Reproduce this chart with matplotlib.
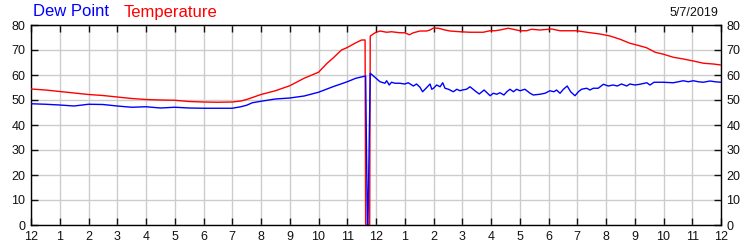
import matplotlib
matplotlib.use("Agg")
import matplotlib.pyplot as plt

plt.rcParams["font.family"] = ["Liberation Sans", "DejaVu Sans"]

# hours since midnight, readings in deg F
temp_hours = [0, 0.5, 1, 1.5, 2, 2.5, 3, 3.5, 4, 4.5, 5, 5.5, 6, 6.5, 7, 7.3, 7.5, 7.7,
              8, 8.5, 9, 9.5, 10, 10.3, 10.5, 10.8, 11, 11.3, 11.5, 11.62, 11.64, 11.78,
              11.80, 11.97, 12.14, 12.37, 12.54, 12.83, 13.0, 13.16, 13.30, 13.53, 13.76,
              13.88, 14.0, 14.17, 14.40, 14.57, 14.92, 15.27, 15.73, 15.97, 16.14, 16.31,
              16.60, 16.89, 17.01, 17.24, 17.41, 17.70, 18.11, 18.40, 18.98, 19.33, 19.79,
              20.14, 20.49, 20.83, 21.07, 21.41, 21.71, 22.0, 22.34, 22.69, 23.04, 23.39,
              23.73, 24.0]
temp_vals = [54.4, 54.0, 53.4, 52.8, 52.2, 51.8, 51.2, 50.6, 50.2, 50.0, 49.9, 49.4, 49.2,
             49.1, 49.2, 49.6, 50.2, 51.0, 52.2, 53.7, 55.7, 58.7, 61.1, 64.7, 66.7, 70.0,
             71.0, 72.9, 74.0, 74.0, 0, 0, 75.6, 76.9, 77.6, 77.1, 77.3, 76.9, 76.9, 76.1,
             76.9, 77.6, 77.6, 78.0, 78.8, 78.7, 78.0, 77.6, 77.3, 77.1, 77.1, 77.7, 77.7,
             78.0, 78.7, 78.0, 77.7, 77.7, 78.3, 78.0, 78.4, 77.7, 77.7, 77.1, 76.4, 75.6,
             74.3, 72.7, 72.0, 70.9, 69.1, 68.3, 67.1, 66.4, 65.6, 64.7, 64.4, 64.0]

dew_hours = [0, 0.5, 1, 1.5, 2, 2.5, 3, 3.5, 4, 4.5, 5, 5.5, 6, 6.5, 7, 7.3, 7.5, 7.7, 8,
             8.5, 9, 9.5, 10, 10.5, 11, 11.3, 11.64, 11.70, 11.72, 11.80, 12.0, 12.14,
             12.31, 12.37, 12.46, 12.54, 12.66, 12.83, 13.0, 13.12, 13.30, 13.41, 13.53,
             13.62, 13.74, 13.88, 13.94, 14.0, 14.11, 14.23, 14.32, 14.40, 14.52, 14.69,
             14.81, 14.92, 15.0, 15.15, 15.27, 15.44, 15.59, 15.76, 15.97, 16.08, 16.20,
             16.31, 16.45, 16.55, 16.66, 16.78, 16.89, 17.01, 17.18, 17.36, 17.47, 17.70,
             17.88, 18.05, 18.19, 18.28, 18.40, 18.52, 18.65, 18.77, 18.92, 19.04, 19.15,
             19.33, 19.44, 19.56, 19.73, 19.91, 20.08, 20.25, 20.39, 20.54, 20.72, 20.83,
             21.01, 21.18, 21.42, 21.53, 21.67, 21.99, 22.34, 22.52, 22.69, 22.86, 23.04,
             23.21, 23.38, 23.62, 23.79, 24.0]
dew_vals = [48.5, 48.3, 48.0, 47.6, 48.3, 48.2, 47.6, 47.1, 47.3, 46.8, 47.1, 46.8, 46.7,
            46.7, 46.7, 47.3, 47.9, 48.9, 49.5, 50.4, 50.8, 51.6, 53.1, 55.3, 57.3, 58.7,
            59.6, 0, 0, 60.7, 58.7, 57.3, 56.7, 57.7, 56.0, 57.1, 56.7, 56.7, 56.4, 56.9,
            55.6, 56.4, 55.1, 53.3, 54.7, 56.4, 54.3, 54.7, 56.0, 55.3, 56.9, 54.7, 54.3,
            53.3, 54.3, 53.7, 54.0, 54.3, 55.3, 53.7, 52.4, 54.0, 51.7, 52.7, 52.3, 52.9,
            52.0, 53.3, 54.3, 53.3, 54.3, 53.7, 54.3, 52.7, 52.0, 52.3, 52.7, 53.7, 53.3,
            54.0, 52.7, 54.3, 55.6, 53.3, 51.7, 53.3, 54.3, 54.7, 54.0, 54.7, 54.7, 56.3,
            55.6, 56.0, 55.6, 56.4, 55.6, 56.4, 56.0, 56.3, 56.9, 56.0, 57.1, 57.1, 56.9,
            57.3, 57.7, 57.3, 57.7, 57.3, 57.1, 57.6, 57.3, 57.1]

hour_labels = ["12"] + [str(h) for h in range(1, 12)] + ["12"] + [str(h) for h in range(1, 12)] + ["12"]
y_ticks = list(range(0, 81, 10))

fig = plt.figure(figsize=(7.5, 2.5), dpi=100)
ax = fig.add_axes([31 / 750, 25 / 250, 690 / 750, 200 / 250])

ax.plot(temp_hours, temp_vals, color="#ff0000", lw=1.0, zorder=3)
ax.plot(dew_hours, dew_vals, color="#0000ff", lw=1.0, zorder=4)

ax.set_xlim(0, 24)
ax.set_ylim(0, 80)
ax.set_xticks(range(25))
ax.set_xticklabels(hour_labels)
ax.set_yticks(y_ticks)
ax.grid(True, color="#cccccc", lw=1.0)
ax.set_axisbelow(True)
ax.tick_params(direction="in", length=5, width=1, top=True, right=True,
               labelright=True, labelsize=9, colors="#111111", pad=4)
for s in ax.spines.values():
    s.set_color("black")
    s.set_linewidth(1.0)

# legend-style header text above the plot
fig.text(33 / 750, 1 - 12 / 250, "Dew Point", color="#0000ff", fontsize=12,
         va="center", ha="left")
fig.text(124 / 750, 1 - 12 / 250, "Temperature", color="#ff0000", fontsize=12,
         va="center", ha="left")
fig.text(718 / 750, 1 - 13 / 250, "5/7/2019", color="#111111", fontsize=9,
         va="center", ha="right")

fig.savefig("out.png", dpi=100)
